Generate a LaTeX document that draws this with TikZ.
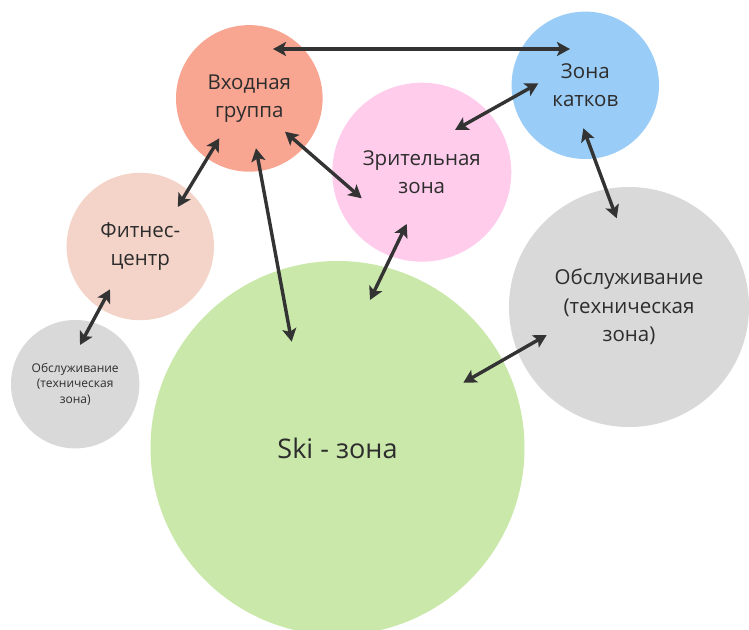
\documentclass[tikz,border=0pt]{standalone}
\usepackage{fontspec}
\setmainfont{Open Sans}
\usetikzlibrary{arrows.meta}
\definecolor{cVhod}{RGB}{248,166,146}
\definecolor{cKatki}{RGB}{153,204,246}
\definecolor{cZrit}{RGB}{255,204,236}
\definecolor{cFit}{RGB}{244,212,201}
\definecolor{cGray}{RGB}{217,217,217}
\definecolor{cSki}{RGB}{201,232,169}
\definecolor{cArr}{RGB}{51,51,51}
\definecolor{cTxt}{RGB}{45,45,45}
\tikzset{
  zone/.style={circle, inner sep=0pt, align=center, text=cTxt, draw=none,
    font=\fontsize{20.5}{28.3}\selectfont},
  smallzone/.style={zone, font=\fontsize{12}{15.8}\selectfont},
  bigzone/.style={zone, font=\fontsize{27}{34}\selectfont},
  link/.style={draw=cArr, line width=3.4pt,
    {Stealth[length=13pt,width=14pt,inset=3pt]}-{Stealth[length=13pt,width=14pt,inset=3pt]}}
}
\begin{document}
\begin{tikzpicture}[x=1pt,y=-1pt]
\useasboundingbox (0,0) rectangle (749,629);
\clip (0,0) rectangle (749,629);
\fill[white] (0,0) rectangle (749,629);
% zones
\node[bigzone, fill=cSki, minimum size=374pt] (ski) at (337.5,448) {Ski - зона};
\node[zone, fill=cVhod, minimum size=146.6pt] (vhod) at (249.3,98.4) {Входная\\группа};
\node[zone, fill=cKatki, minimum size=147.4pt] (katki) at (585.3,85.3) {Зона\\катков};
\node[zone, fill=cZrit, minimum size=179pt] (zrit) at (421.8,172.2) {Зрительная\\зона};
\node[zone, fill=cFit, minimum size=147.4pt] (fit) at (140.3,246.5) {Фитнес-\\центр};
\node[smallzone, fill=cGray, minimum size=128.4pt] (obs1) at (75.2,384.2) {Обслуживание\\(техническая\\зона)};
\node[zone, fill=cGray, minimum size=240pt] (obs2) at (629,307) {Обслуживание\\(техническая\\зона)};
% connector ends
\coordinate (vhodA) at (273,49);
\coordinate (katkiA) at (570,49);
\coordinate (katkiB) at (538.3,83.3);
\coordinate (zritB) at (455,130);
\coordinate (katkiC) at (583.3,128.3);
\coordinate (obs2C) at (616.7,218.3);
\coordinate (vhodD) at (285,131.7);
\coordinate (zritD) at (361.7,198.3);
\coordinate (vhodE) at (219.3,138.3);
\coordinate (fitE) at (177.8,207);
\coordinate (vhodF) at (256,148.3);
\coordinate (skiF) at (291.7,341.7);
\coordinate (zritG) at (406.7,224);
\coordinate (skiG) at (370,300);
\coordinate (obs2H) at (546.7,335);
\coordinate (skiH) at (463.3,382.7);
\coordinate (fitI) at (110,289.3);
\coordinate (obs1I) at (80,345);
% connectors
\draw[link] (vhodA) -- (katkiA);
\draw[link] (katkiB) -- (zritB);
\draw[link] (katkiC) -- (obs2C);
\draw[link] (vhodD) -- (zritD);
\draw[link] (vhodE) -- (fitE);
\draw[link] (vhodF) -- (skiF);
\draw[link] (zritG) -- (skiG);
\draw[link] (obs2H) -- (skiH);
\draw[link] (fitI) -- (obs1I);
\end{tikzpicture}
\end{document}
